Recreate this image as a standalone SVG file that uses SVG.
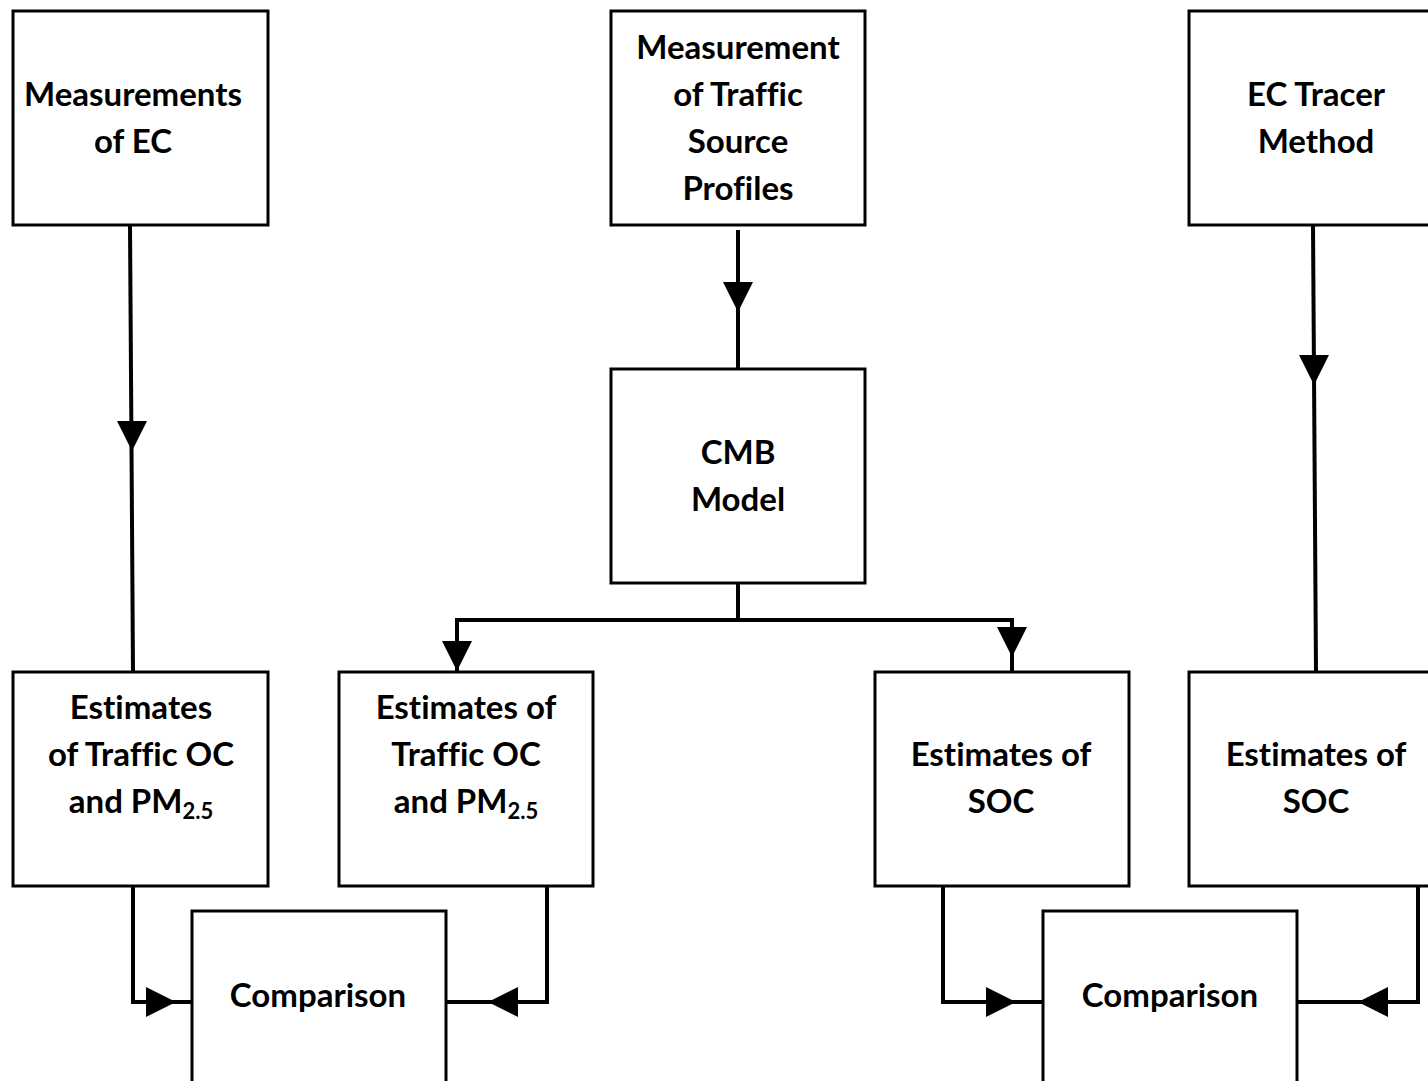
<svg xmlns="http://www.w3.org/2000/svg" xmlns:xlink="http://www.w3.org/1999/xlink" width="1428" height="1081" viewBox="0 0 1428 1081">
<style>
.box{fill:#fff;stroke:#000;stroke-width:3}
.lbl{font-family:Lato,"Open Sans","Liberation Sans",sans-serif;font-weight:bold;font-size:33px;text-anchor:middle;fill:#000;font-variant-ligatures:none}
.sub{font-size:22px}
.con{fill:none;stroke:#000;stroke-width:4;stroke-linejoin:miter}
</style>
<defs>
<path id="ah" d="M-15,-30 L15,-30 L0,0 Z" fill="#000"/>
</defs>
<rect width="1428" height="1081" fill="#fff"/>
<g id="connectors">
<path class="con" d="M130,225 L133,672"/>
<use xlink:href="#ah" transform="translate(132,451)"/>
<path class="con" d="M738,230 L738,372"/>
<use xlink:href="#ah" transform="translate(738,312)"/>
<path class="con" d="M1313,225 L1316,672"/>
<use xlink:href="#ah" transform="translate(1314,385)"/>
<path class="con" d="M738,583 L738,620 M457,672 L457,620 L1012,620 L1012,672"/>
<use xlink:href="#ah" transform="translate(457,671)"/>
<use xlink:href="#ah" transform="translate(1012,657)"/>
<path class="con" d="M133,886 L133,1002 L192,1002"/>
<use xlink:href="#ah" transform="translate(176,1002) rotate(-90)"/>
<path class="con" d="M547,886 L547,1002 L446,1002"/>
<use xlink:href="#ah" transform="translate(488,1002) rotate(90)"/>
<path class="con" d="M943,886 L943,1002 L1043,1002"/>
<use xlink:href="#ah" transform="translate(1016,1002) rotate(-90)"/>
<path class="con" d="M1418,886 L1418,1002 L1297,1002"/>
<use xlink:href="#ah" transform="translate(1358,1002) rotate(90)"/>
</g>
<g id="n1"><rect class="box" x="13" y="11" width="255" height="214"/>
<text class="lbl" x="133" y="106">Measurements</text><text class="lbl" x="133" y="153">of EC</text></g>
<g id="n2"><rect class="box" x="611" y="11" width="254" height="214"/>
<text class="lbl" x="738" y="59">Measurement</text><text class="lbl" x="738" y="106">of Traffic</text><text class="lbl" x="738" y="153">Source</text><text class="lbl" x="738" y="200">Profiles</text></g>
<g id="n3"><rect class="box" x="1189" y="11" width="255" height="214"/>
<text class="lbl" x="1316" y="106">EC Tracer</text><text class="lbl" x="1316" y="153">Method</text></g>
<g id="n4"><rect class="box" x="611" y="369" width="254" height="214"/>
<text class="lbl" x="738" y="464">CMB</text><text class="lbl" x="738" y="511">Model</text></g>
<g id="n5"><rect class="box" x="13" y="672" width="255" height="214"/>
<text class="lbl" x="141" y="719">Estimates</text><text class="lbl" x="141" y="766">of Traffic OC</text><text class="lbl" x="141" y="813">and PM<tspan class="sub" dy="6">2.5</tspan></text></g>
<g id="n6"><rect class="box" x="339" y="672" width="254" height="214"/>
<text class="lbl" x="466" y="719">Estimates of</text><text class="lbl" x="466" y="766">Traffic OC</text><text class="lbl" x="466" y="813">and PM<tspan class="sub" dy="6">2.5</tspan></text></g>
<g id="n7"><rect class="box" x="875" y="672" width="254" height="214"/>
<text class="lbl" x="1001" y="766">Estimates of</text><text class="lbl" x="1001" y="813">SOC</text></g>
<g id="n8"><rect class="box" x="1189" y="672" width="255" height="214"/>
<text class="lbl" x="1316" y="766">Estimates of</text><text class="lbl" x="1316" y="813">SOC</text></g>
<g id="n9"><rect class="box" x="192" y="911" width="254" height="200"/>
<text class="lbl" x="318" y="1007">Comparison</text></g>
<g id="n10"><rect class="box" x="1043" y="911" width="254" height="200"/>
<text class="lbl" x="1170" y="1007">Comparison</text></g>
</svg>
